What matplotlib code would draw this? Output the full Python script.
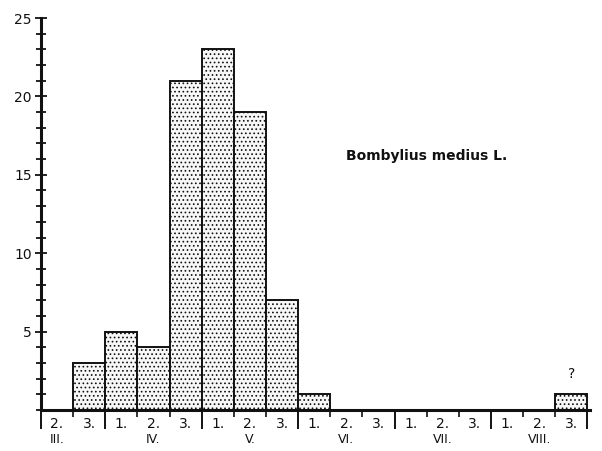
import numpy as np
import matplotlib
matplotlib.use("Agg")
import matplotlib.pyplot as plt
from matplotlib.ticker import MultipleLocator, FixedLocator

plt.rcParams["font.family"] = "DejaVu Sans"
plt.rcParams["hatch.color"] = "#9a9a9a"
plt.rcParams["hatch.linewidth"] = 0.7

INK = "#111111"

# decades (1., 2., 3.) from III.2 to VIII.3
decades = ["2.", "3.", "1.", "2.", "3.", "1.", "2.", "3.", "1.", "2.", "3.",
           "1.", "2.", "3.", "1.", "2.", "3."]
counts = [0, 3, 5, 4, 21, 23, 19, 7, 1, 0, 0, 0, 0, 0, 0, 0, 1]
months = ["III.", "IV.", "V.", "VI.", "VII.", "VIII."]
month_start = [0, 2, 5, 8, 11, 14]   # bin index where each month begins
month_len = [2, 3, 3, 3, 3, 3]

fig = plt.figure(figsize=(6.02, 4.51), dpi=100)
ax = fig.add_axes([0.068, 0.091, 0.912, 0.869])

x = np.arange(len(counts))
ax.bar(x, counts, width=1.0, align="edge", color="#f7f7f7",
       edgecolor=INK, linewidth=1.4, hatch="....")

ax.set_xlim(0, 17.08)
ax.set_ylim(0, 25)

for s in ["top", "right"]:
    ax.spines[s].set_visible(False)
for s in ["left", "bottom"]:
    ax.spines[s].set_linewidth(2.2)
    ax.spines[s].set_color(INK)

# y axis: ticks crossing the axis
ax.yaxis.set_major_locator(FixedLocator([5, 10, 15, 20, 25]))
ax.yaxis.set_minor_locator(MultipleLocator(1))
ax.tick_params(axis="y", which="major", direction="inout", length=9, width=1.3,
               labelsize=10, colors=INK, pad=2)
ax.tick_params(axis="y", which="minor", direction="inout", length=7, width=1.3,
               colors=INK)

# x axis: short ticks at decades, long ticks at month boundaries
bounds = list(month_start) + [len(counts)]
ax.xaxis.set_major_locator(FixedLocator(bounds))
ax.xaxis.set_minor_locator(FixedLocator(np.arange(1, len(counts))))
ax.tick_params(axis="x", which="major", direction="out", length=14, width=1.4,
               labelbottom=False, colors=INK)
ax.tick_params(axis="x", which="minor", direction="out", length=5, width=1.2,
               colors=INK)

trans = ax.get_xaxis_transform()
for i, d in enumerate(decades):
    ax.text(i + 0.5, -0.035, d, transform=trans, ha="center", va="center",
            fontsize=10, color=INK)
for m, st, ln in zip(months, month_start, month_len):
    xm = st + 0.5 if ln == 2 else st + ln / 2
    ax.text(xm, -0.075, m, transform=trans, ha="center", va="center",
            fontsize=9, color=INK)

ax.text(0.702, 0.647, "Bombylius medius L.", transform=ax.transAxes,
        ha="center", va="center", fontsize=10, fontweight="heavy", color=INK)
ax.text(16.5, counts[-1] + 1.3, "?", ha="center", va="center",
        fontsize=10, color=INK)

fig.savefig("out.png", dpi=100)
